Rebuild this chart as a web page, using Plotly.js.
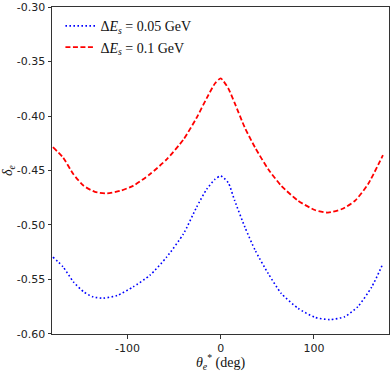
<!DOCTYPE html>
<html>
<head>
<meta charset="utf-8">
<script src="https://cdn.plot.ly/plotly-3.0.1.min.js"></script>
<style>html,body{margin:0;padding:0;background:#fff;}#chart{width:390px;height:372px;}</style>
</head>
<body>
<div id="chart"></div>
<script>
// Series: Delta E_s = 0.05 GeV (blue dotted)
const thetaLow = [-180,-169,-158,-147,-137,-126,-111,-94,-76,-58,-40,-26,-15,-6,0,8,15,26,37,51,65,83,101,117,133,147,162,174];
const deltaLow = [-0.5295,-0.5386,-0.5523,-0.5614,-0.5660,-0.5672,-0.5647,-0.5569,-0.5462,-0.5295,-0.5082,-0.4839,-0.4671,-0.4580,-0.4550,-0.4611,-0.4778,-0.5022,-0.5234,-0.5447,-0.5629,-0.5766,-0.5848,-0.5869,-0.5842,-0.5751,-0.5569,-0.5355];
// Series: Delta E_s = 0.1 GeV (red dashed)
const thetaHigh = [-180,-169,-158,-147,-135,-122,-108,-94,-76,-58,-40,-26,-15,-6,0,8,15,26,37,51,65,83,101,115,130,144,158,174];
const deltaHigh = [-0.4286,-0.4383,-0.4535,-0.4641,-0.4696,-0.4711,-0.4687,-0.4641,-0.4535,-0.4398,-0.4216,-0.4018,-0.3836,-0.3699,-0.3655,-0.3745,-0.3882,-0.4110,-0.4292,-0.4489,-0.4641,-0.4778,-0.4863,-0.4887,-0.4854,-0.4778,-0.4626,-0.4359];
const seriesNames = ['Δ<i>E<sub>s</sub></i> = 0.05 GeV', 'Δ<i>E<sub>s</sub></i> = 0.1 GeV'];
// Tick labels
const xTickVals = [-100, 0, 100];
const xTickText = ['-100', '0', '100'];
const yTickVals = [-0.60, -0.55, -0.50, -0.45, -0.40, -0.35, -0.30];
const yTickText = ['-0.60', '-0.55', '-0.50', '-0.45', '-0.40', '-0.35', '-0.30'];

const serif = 'Liberation Serif';
const sans = 'DejaVu Sans';

const traces = [
  {x: thetaLow, y: deltaLow, mode: 'lines', name: seriesNames[0],
   line: {color: '#0000ff', width: 1.6, dash: '1.6px,2.4px', shape: 'spline', smoothing: 0.6}},
  {x: thetaHigh, y: deltaHigh, mode: 'lines', name: seriesNames[1],
   line: {color: '#ff0000', width: 1.8, dash: '5px,2.5px', shape: 'spline', smoothing: 0.6}}
];

const axisCommon = {
  showgrid: false, zeroline: false, showline: true, mirror: true,
  linecolor: '#333', linewidth: 1, ticks: 'outside', ticklen: 3.5, tickwidth: 1,
  tickcolor: '#333', tickfont: {family: sans, size: 11, color: '#222'},
  ticklabeloverflow: 'allow'
};

const layout = {
  width: 390, height: 372,
  margin: {l: 52, r: 1, t: 7, b: 38},
  paper_bgcolor: '#fff', plot_bgcolor: '#fff',
  showlegend: true,
  legend: {x: 0.025, y: 0.99, xanchor: 'left', yanchor: 'top', bgcolor: 'rgba(0,0,0,0)',
           font: {family: serif, size: 14, color: '#111'}, tracegroupgap: 0},
  xaxis: Object.assign({}, axisCommon, {
    range: [-181, 180.5], tickmode: 'array', tickvals: xTickVals, ticktext: xTickText,
    title: {text: '<i>θ<sub>e</sub></i><sup>*</sup> (deg)', font: {family: serif, size: 14, color: '#111'}, standoff: 4}
  }),
  yaxis: Object.assign({}, axisCommon, {
    range: [-0.6001, -0.29995], tickmode: 'array', tickvals: yTickVals, ticktext: yTickText,
    title: {text: '<i>δ<sub>e</sub></i>', font: {family: serif, size: 14, color: '#111'}, standoff: 4}
  })
};

Plotly.newPlot('chart', traces, layout, {staticPlot: true, displayModeBar: false});
</script>
</body>
</html>
